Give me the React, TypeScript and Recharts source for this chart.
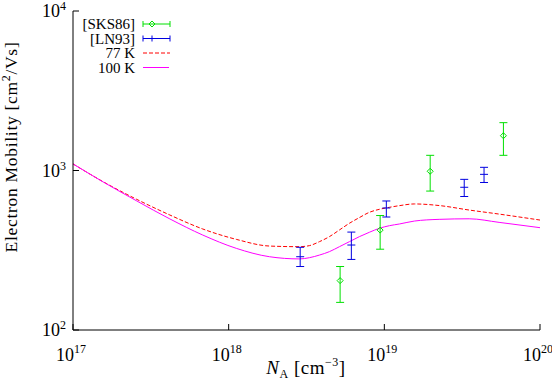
import { ComposedChart, Line, Scatter, ErrorBar, XAxis, YAxis } from "recharts";

// doping concentration N_A [cm^-3] for the model curves
const curveN = [
  1e17, 1.56e17, 2.57e17, 4.19e17, 6.81e17, 1.12e18, 1.83e18, 2.85e18, 3.3e18, 3.83e18,
  4.44e18, 5.15e18, 5.97e18, 6.92e18, 8.02e18, 9.29e18, 1.08e19, 1.25e19, 1.56e19,
  2.25e19, 3.51e19, 5.46e19, 1e20,
];
const mob77K = [
  1100, 851, 659, 526, 430, 370, 336, 333, 338, 358,
  385, 424, 467, 507, 547, 571, 588, 602, 617,
  603, 565, 533, 489,
];
const mob100K = [
  1100, 848, 644, 497, 394, 325, 288, 279, 284, 295,
  310, 333, 358, 385, 410, 434, 451, 462, 482,
  494, 498, 473, 438,
];

// [SKS86]
const sksN = [5.2e18, 9.4e18, 1.97e19, 5.82e19];
const sksMu = [204, 423, 989, 1652];
const sksLo = [149, 321, 743, 1245];
const sksHi = [250, 522, 1245, 1995];

// [LN93]
const lnN = [2.88e18, 6.14e18, 1.03e19, 3.26e19, 4.37e19];
const lnMu = [288, 341, 582, 785, 946];
const lnLo = [250, 277, 511, 687, 841];
const lnHi = [330, 411, 644, 880, 1047];

const xTicks = [1e17, 1e18, 1e19, 1e20];
const yTicks = [1e2, 1e3, 1e4];

const curve = curveN.map((n, i) => ({ n, red: mob77K[i], mag: mob100K[i] }));
const sks = sksN.map((n, i) => ({ n, mu: sksMu[i], err: [sksMu[i] - sksLo[i], sksHi[i] - sksMu[i]] }));
const ln = lnN.map((n, i) => ({ n, mu: lnMu[i], err: [lnMu[i] - lnLo[i], lnHi[i] - lnMu[i]] }));

const FONT = "'Liberation Serif', 'DejaVu Serif', serif";
const GREEN = "#00e000";
const BLUE = "#0000e0";

const exp = (v: number) => Math.round(Math.log10(v));

const BottomTick = ({ x, y, payload }: any) => (
  <g>
    <line x1={x} y1={y} x2={x} y2={y - 6} stroke="#000" />
    <text x={x - 2} y={y + 31} textAnchor="middle" fontSize={18} fontFamily={FONT} fill="#000">
      10<tspan dy={-8} fontSize={12}>{exp(payload.value)}</tspan>
    </text>
  </g>
);
const TopTick = ({ x, y }: any) => <line x1={x} y1={y} x2={x} y2={y + 6} stroke="#000" />;
const LeftTick = ({ x, y, payload }: any) => (
  <g>
    <line x1={x} y1={y} x2={x + 6} y2={y} stroke="#000" />
    <text x={x - 7} y={y + 6} textAnchor="end" fontSize={18} fontFamily={FONT} fill="#000">
      10<tspan dy={-7} fontSize={12}>{exp(payload.value)}</tspan>
    </text>
  </g>
);
const RightTick = ({ x, y }: any) => <line x1={x} y1={y} x2={x - 6} y2={y} stroke="#000" />;

const Diamond = ({ cx, cy }: any) => (
  <polygon points={`${cx},${cy - 3} ${cx + 3},${cy} ${cx},${cy + 3} ${cx - 3},${cy}`} fill="none" stroke={GREEN} />
);
const Dash = ({ cx, cy }: any) => <line x1={cx - 4} y1={cy} x2={cx + 4} y2={cy} stroke={BLUE} />;

function Legend() {
  const rows = ["[SKS86]", "[LN93]", "77 K", "100 K"];
  const ys = [24, 38.5, 53, 67.5];
  return (
    <svg width={552} height={391} style={{ position: "absolute", left: 0, top: 0, pointerEvents: "none" }}>
      {rows.map((r, i) => (
        <text key={r} x={135} y={ys[i] + 5} textAnchor="end" fontSize={15} fontFamily={FONT}>{r}</text>
      ))}
      <g stroke={GREEN}>
        <line x1={143} y1={ys[0]} x2={170} y2={ys[0]} />
        <line x1={143} y1={ys[0] - 3} x2={143} y2={ys[0] + 3} />
        <line x1={170} y1={ys[0] - 3} x2={170} y2={ys[0] + 3} />
        <Diamond cx={152} cy={ys[0]} />
      </g>
      <g stroke={BLUE}>
        <line x1={143} y1={ys[1]} x2={170} y2={ys[1]} />
        <line x1={143} y1={ys[1] - 3} x2={143} y2={ys[1] + 3} />
        <line x1={170} y1={ys[1] - 3} x2={170} y2={ys[1] + 3} />
        <line x1={152} y1={ys[1] - 3} x2={152} y2={ys[1] + 3} />
      </g>
      <line x1={143} y1={ys[2]} x2={170} y2={ys[2]} stroke="#ff0000" strokeDasharray="4 2" />
      <line x1={143} y1={ys[3]} x2={169} y2={ys[3]} stroke="#ff00ff" />
      <text transform="translate(17,147) rotate(-90)" textAnchor="middle" fontSize={17.5} letterSpacing={0.7}
        fontFamily={FONT}>
        Electron Mobility [cm<tspan dy={-7} fontSize={12}>2</tspan><tspan dy={7}>/Vs]</tspan>
      </text>
      <text x={306} y={374} textAnchor="middle" fontSize={19} letterSpacing={0.5} fontFamily={FONT}>
        <tspan fontStyle="italic">N</tspan><tspan dy={4} fontSize={12}>A</tspan>
        <tspan dy={-4}> [cm</tspan><tspan dy={-8} fontSize={12}>−3</tspan><tspan dy={8}>]</tspan>
      </text>
    </svg>
  );
}

export default function App() {
  return (
    <div style={{ position: "absolute", left: 0, top: 0, width: 552, height: 391, background: "#fff" }}>
      <ComposedChart width={552} height={391} data={curve} margin={{ top: 11, right: 12, bottom: 0, left: 0 }}>
        <XAxis xAxisId="b" dataKey="n" type="number" scale="log" domain={[1e17, 1e20]} ticks={xTicks}
          allowDataOverflow interval={0} height={61} tickSize={0} tickMargin={0} tickLine={false}
          tick={<BottomTick />} stroke="#000" />
        <XAxis xAxisId="t" orientation="top" dataKey="n" type="number" scale="log" domain={[1e17, 1e20]}
          ticks={xTicks} allowDataOverflow interval={0} height={0} tickSize={0} tickMargin={0} tickLine={false}
          tick={<TopTick />} stroke="#000" />
        <YAxis yAxisId="l" type="number" scale="log" domain={[100, 10000]} ticks={yTicks} allowDataOverflow
          interval={0} width={73} tickSize={0} tickMargin={0} tickLine={false} tick={<LeftTick />} stroke="#000" />
        <YAxis yAxisId="r" orientation="right" type="number" scale="log" domain={[100, 10000]} ticks={yTicks}
          allowDataOverflow interval={0} width={0} tickSize={0} tickMargin={0} tickLine={false}
          tick={<RightTick />} stroke="#000" />
        <Line xAxisId="b" yAxisId="l" dataKey="red" type="monotone" stroke="#ff0000" strokeDasharray="4 2"
          dot={false} isAnimationActive={false} />
        <Line xAxisId="b" yAxisId="l" dataKey="mag" type="monotone" stroke="#ff00ff" dot={false}
          isAnimationActive={false} />
        <Scatter xAxisId="b" yAxisId="l" data={sks} dataKey="mu" shape={<Diamond />} isAnimationActive={false}>
          <ErrorBar dataKey="err" direction="y" width={4} stroke={GREEN} strokeWidth={1} />
        </Scatter>
        <Scatter xAxisId="b" yAxisId="l" data={ln} dataKey="mu" shape={<Dash />} isAnimationActive={false}>
          <ErrorBar dataKey="err" direction="y" width={4} stroke={BLUE} strokeWidth={1} />
        </Scatter>
      </ComposedChart>
      <Legend />
    </div>
  );
}
